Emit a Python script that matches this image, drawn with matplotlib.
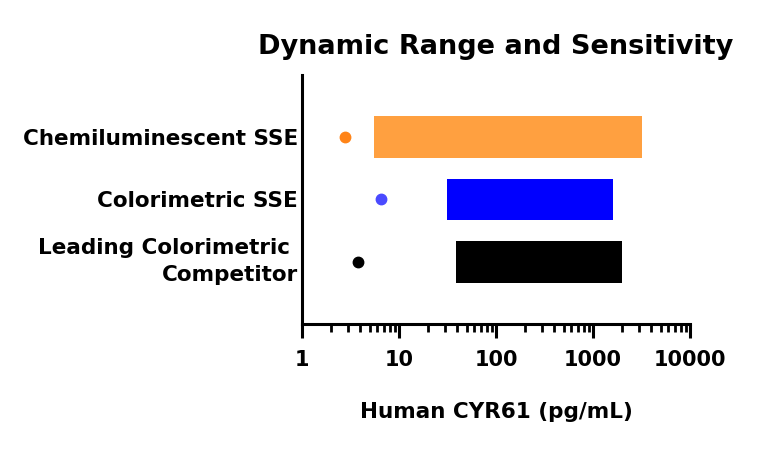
import numpy as np
import matplotlib.pyplot as plt
import matplotlib.transforms as mtransforms
from matplotlib.ticker import FixedLocator, FixedFormatter, LogLocator, NullFormatter

plt.rcParams['font.family'] = ['DejaVu Sans']
plt.rcParams['font.weight'] = 'bold'

categories  = ['Leading Colorimetric \nCompetitor', 'Colorimetric SSE', 'Chemiluminescent SSE']
range_low   = [39, 31.5, 5.5]
range_high  = [2000, 1600, 3180]
sensitivity = [3.8, 6.6, 2.8]
bar_colors  = ['#000000', '#0000FF', '#FFA040']
dot_colors  = ['#000000', '#4A4AFF', '#FF8418']
x_ticks     = [1, 10, 100, 1000, 10000]
x_labels    = ['1', '10', '100', '1000', '10000']

fig = plt.figure(figsize=(7.68, 4.51), dpi=100)
ax = fig.add_axes([0.3932, 0.2816, 0.5052, 0.5521])

y = np.arange(len(categories))
widths = np.array(range_high) - np.array(range_low)
ax.barh(y, widths, left=range_low, height=0.67, color=bar_colors, zorder=2)
for yi, s, c in zip(y, sensitivity, dot_colors):
    ax.plot(s, yi, 'o', color=c, markersize=7.5, zorder=3)

ax.set_xscale('log')
ax.set_xlim(1, 10000)
ax.set_ylim(-1, 3)
ax.xaxis.set_major_locator(FixedLocator(x_ticks))
ax.xaxis.set_major_formatter(FixedFormatter(x_labels))
ax.xaxis.set_minor_locator(LogLocator(base=10, subs=np.arange(2, 10)))
ax.xaxis.set_minor_formatter(NullFormatter())

ax.set_yticks(y)
ax.set_yticklabels(categories, fontsize=15.5, fontweight='bold', linespacing=1.45)
ax.tick_params(axis='y', length=0, pad=3)
ax.tick_params(axis='x', which='major', length=10, width=2.2, pad=9, labelsize=15)
ax.tick_params(axis='x', which='minor', length=6, width=2)

# two-line label sits a little above its bar in the original
lbl = ax.get_yticklabels()[0]
lbl.set_transform(lbl.get_transform() + mtransforms.ScaledTranslation(0, 4 / 72, fig.dpi_scale_trans))

for side in ['top', 'right']:
    ax.spines[side].set_visible(False)
for side in ['left', 'bottom']:
    ax.spines[side].set_linewidth(2.2)

ax.set_title('Dynamic Range and Sensitivity', fontsize=19.5, fontweight='bold', pad=15)
ax.set_xlabel('Human CYR61 (pg/mL)', fontsize=15.5, fontweight='bold', labelpad=23)

fig.savefig('out.png', dpi=100)
